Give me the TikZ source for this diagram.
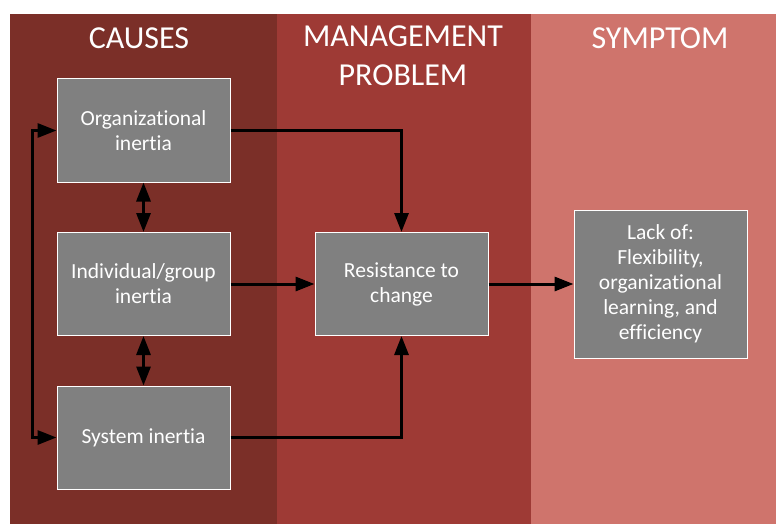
\documentclass[tikz,border=0pt]{standalone}
\usepackage{fontspec}
\setmainfont{Carlito}[Ligatures=NoCommon]
\usetikzlibrary{arrows.meta}
\definecolor{colA}{HTML}{7B2F28}
\definecolor{colB}{HTML}{9E3A35}
\definecolor{colC}{HTML}{CF746C}
\definecolor{boxgray}{HTML}{808080}
\tikzset{
  box/.style={draw=white, line width=1pt, fill=boxgray, text=white, align=center,
    minimum width=173pt, minimum height=103pt, inner sep=2pt,
    font=\fontsize{21.5}{25}\selectfont},
  title/.style={text=white, align=center, inner sep=0pt,
    font=\fontsize{32}{39}\selectfont},
  arr/.style={line width=3pt, -{Triangle[length=19pt,width=14pt]}},
  dbl/.style={line width=3pt, {Triangle[length=19pt,width=14pt]}-{Triangle[length=19pt,width=14pt]}}
}
\begin{document}
\begin{tikzpicture}[x=1pt,y=-1pt]
\useasboundingbox (0,0) rectangle (776,524);
\fill[colA] (10,14) rectangle (277,524);
\fill[colB] (277,14) rectangle (531,524);
\fill[colC] (531,14) rectangle (776,524);

\node[title, anchor=base] (t1) at (139,49) {CAUSES};
\node[title, anchor=base] (t2) at (403,86) {MANAGEMENT\\PROBLEM};
\node[title, anchor=base] (t3) at (660,49) {SYMPTOM};

\node[box] (org) at (143.5,130.5) {Organizational\\inertia};
\node[box] (ind) at (143.5,284) {Individual/group\\inertia};
\node[box] (sys) at (143.5,437.5) {System inertia};
\node[box] (res) at (401.5,284) {Resistance to\\change};
\node[box, minimum height=148pt] (lack) at (660.5,284) {Lack of:\\Flexibility,\\organizational\\learning, and\\efficiency};

\draw[dbl] (org.south) -- (ind.north);
\draw[dbl] (ind.south) -- (sys.north);
\draw[dbl] (org.west) -- ([xshift=-24pt]org.west) |- (sys.west);
\draw[arr] (org.east) -| (res.north);
\draw[arr] (sys.east) -| (res.south);
\draw[arr] (ind.east) -- (res.west);
\draw[arr] (res.east) -- (lack.west);
\end{tikzpicture}
\end{document}
